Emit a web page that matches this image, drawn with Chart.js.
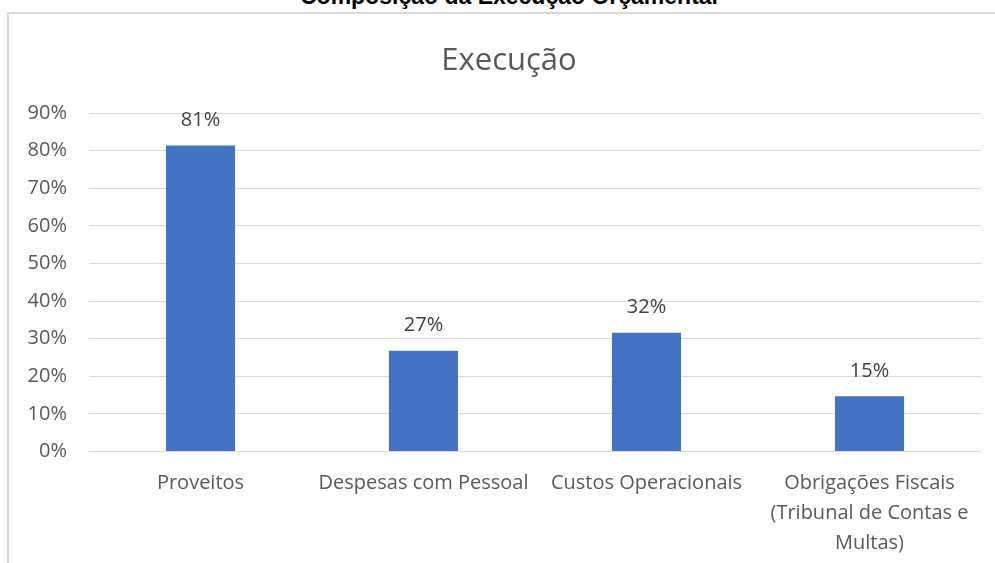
<!DOCTYPE html>
<html>
<head>
<meta charset="utf-8">
<script src="https://cdn.jsdelivr.net/npm/chart.js@4.4.0/dist/chart.umd.min.js"></script>
<style>
  html, body { margin: 0; padding: 0; background: #fff; overflow: hidden; }
  #page { position: relative; width: 995px; height: 563px; overflow: hidden; }
  #heading {
    position: absolute; left: 0; top: -15px; width: 1018px; text-align: center;
    font: bold 23px "Liberation Sans", Arial, sans-serif; line-height: 23px; color: #000;
  }
  #frame {
    position: absolute; left: 7px; top: 12px; width: 2000px; height: 2000px;
    border-left: 2px solid #d9d9d9; border-top: 2px solid #d9d9d9;
  }
  /* chart frame runs past the right edge of the picture */
  #wrap { position: absolute; left: 0; top: 0; width: 1018px; height: 563px; }
</style>
</head>
<body>
<div id="page">
  <div id="heading">Composição da Execução Orçamental</div>
  <div id="frame"></div>
  <div id="wrap"><canvas id="execChart"></canvas></div>
</div>
<script>
const categories = [
  'Proveitos',
  'Despesas com Pessoal',
  'Custos Operacionais',
  ['Obrigações Fiscais', '(Tribunal de Contas e', 'Multas)'],
];
const execValues = [81.4, 26.8, 31.6, 14.7];
const yTicks = [0, 10, 20, 30, 40, 50, 60, 70, 80, 90];

const FONT = '"Open Sans", "Noto Sans", sans-serif';

// labels above bars
const barLabels = {
  id: 'barLabels',
  afterDatasetsDraw(chart) {
    const ctx = chart.ctx;
    const meta = chart.getDatasetMeta(0);
    ctx.save();
    ctx.font = '20px ' + FONT;
    ctx.fillStyle = '#404040';
    ctx.textAlign = 'center';
    ctx.textBaseline = 'middle';
    meta.data.forEach((bar, i) => {
      ctx.fillText(Math.round(execValues[i]) + '%', bar.x, bar.y - 25);
    });
    ctx.restore();
  },
};

new Chart(document.getElementById('execChart'), {
  type: 'bar',
  data: {
    labels: categories,
    datasets: [
      {
        data: execValues,
        backgroundColor: '#4472C4',
        borderWidth: 0,
        barPercentage: 0.31,
        categoryPercentage: 1,
      },
    ],
  },
  options: {
    responsive: true,
    maintainAspectRatio: false,
    animation: false,
    layout: {
      padding: { left: 0, right: 0, top: 0, bottom: 0 },
    },
    plugins: {
      legend: { display: false },
      tooltip: { enabled: false },
      title: {
        display: true,
        text: 'Execução',
        color: '#595959',
        font: { family: FONT, size: 31, weight: 'normal', lineHeight: 1.2 },
        padding: { top: 43, bottom: 33 },
      },
    },
    scales: {
      x: {
        grid: { display: false },
        border: { display: false },
        ticks: {
          color: '#595959',
          padding: 9,
          maxRotation: 0,
          autoSkip: false,
          font: { family: FONT, size: 20, lineHeight: '30px' },
        },
        afterFit: (scale) => { scale.height = 111.5; },
      },
      y: {
        min: 0,
        max: 90,
        afterBuildTicks: (scale) => { scale.ticks = yTicks.map((v) => ({ value: v })); },
        grid: { color: '#d9d9d9', lineWidth: 1, drawTicks: false },
        border: { display: false },
        ticks: {
          color: '#595959',
          padding: 22,
          font: { family: FONT, size: 20 },
          callback: (v) => v + '%',
        },
        afterFit: (scale) => { scale.width = 89; },
      },
      // empty right margin of the plot area
      yRight: {
        position: 'right',
        min: 0,
        max: 90,
        grid: { display: false },
        border: { display: false },
        ticks: { display: false },
        afterFit: (scale) => { scale.width = 37; },
      },
    },
  },
  plugins: [barLabels],
});
</script>
</body>
</html>
